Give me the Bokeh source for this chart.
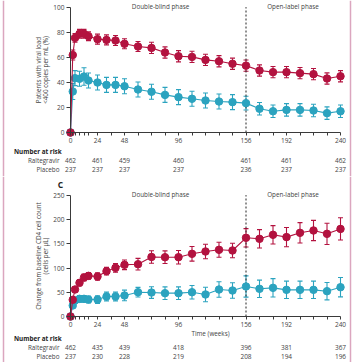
from bokeh.plotting import figure
from bokeh.models import (LinearAxis, FixedTicker, ColumnDataSource, Whisker, TeeHead,
                          Span, Range1d)
from bokeh.layouts import column
from bokeh.embed import file_html
from bokeh.resources import INLINE
from bokeh.core.properties import value
import math

# ---------------- data ----------------
weeks = [0, 2, 4, 8, 12, 16, 24, 32, 40, 48, 60, 72, 84, 96, 108, 120, 132, 144,
         156, 168, 180, 192, 204, 216, 228, 240]

vl_ral = [0, 62, 75.7, 79, 79, 77, 74.7, 74.1, 73.6, 71, 68.8, 67.7, 64, 61, 60.5, 58.1,
          57, 55, 53.5, 49.6, 48.3, 48.3, 47.5, 46.7, 43.2, 45]
vl_ral_err = [0, 4, 3.5, 3.5, 3.5, 3.5, 4, 4, 4, 4, 4, 4.5, 4.5, 4.5, 4.5, 4.5, 4.5, 4.5,
              4.5, 4.5, 4.5, 4.5, 4.5, 4.5, 4.5, 4.5]
vl_pla = [0, 32.8, 43.5, 43, 44.8, 41.6, 40, 38.1, 38.1, 37, 34.4, 32.6, 30.1, 28.3, 27,
          25.6, 24.8, 24.3, 23.5, 19, 17, 18.1, 18.1, 17.6, 15.5, 17]
vl_pla_err = [0, 6.4, 6, 6, 7, 6, 6, 6, 6, 6, 6, 6, 6, 6, 6, 6, 6, 6, 5.5, 5, 5, 5, 5, 5,
              5, 5]

cd4_ral = [0, 34.5, 55.8, 69.6, 80.6, 84, 82.6, 93.6, 100.6, 106.8, 108, 123, 122.5, 122.5,
           129.5, 134.3, 137.8, 136.4, 162.6, 160.5, 168.8, 164, 172.9, 177.7, 170.8, 181]
cd4_ral_err = [0, 5, 6, 6, 7, 7, 7.5, 8, 9, 10, 12, 13, 13, 14, 15, 15, 15.5, 15, 19, 19,
               19, 20, 21, 21, 22, 23]
cd4_pla = [0, 22.7, 33, 36.5, 36.5, 35, 35, 41.3, 41.3, 43.4, 50.2, 49.5, 48.2, 48.2, 50.2,
           45.5, 55.8, 53.7, 62, 57.2, 59.2, 55.1, 55.1, 55.1, 52.3, 60.5]
cd4_pla_err = [0, 5, 6, 7, 7, 7, 8, 9, 9, 11, 10, 12, 13, 13, 14, 15, 16, 16, 22, 18, 19,
               18, 18, 18, 18, 20]

risk_weeks = [0, 24, 48, 96, 156, 192, 240]
vl_risk_ral = ["462", "461", "459", "460", "461", "461", "462"]
vl_risk_pla = ["237", "237", "237", "237", "236", "237", "237"]
cd4_risk_ral = ["462", "435", "439", "418", "396", "381", "367"]
cd4_risk_pla = ["237", "230", "228", "219", "208", "194", "196"]

x_major = [0, 24, 48, 96, 156, 192, 240]
x_minor = [2, 4, 8, 12, 16, 36, 60, 72, 84, 108, 120, 132, 144, 168, 180, 204, 216, 228]
vl_ticks = [0, 20, 40, 60, 80, 100]
cd4_ticks = [0, 50, 100, 150, 200, 250]
phase_switch = 156

# ---------------- styles ----------------
RED = "#b3123f"
BLUE = "#2ba3bf"
AXIS = "#3a3a3a"
TXT = "#444444"
PINK = "#dba6bf"
FONT = "Open Sans"
FONT_V = value(FONT)
W = 356
PX_PER_WEEK = 1.125
X0_PX = 70


def wk(px):
    return (px - X0_PX) / PX_PER_WEEK


def make_panel(height, y_zero_px, px_per_unit, ymax, ticks, series, risk_ral, risk_pla,
               risk_y, phase_y, panel_letter=None, xlabel=None, ytitle=("", "")):
    def yv(px):
        return (y_zero_px - px) / px_per_unit

    p = figure(width=W, height=height, output_backend="svg", toolbar_location=None,
               x_axis_type=None, y_axis_type=None,
               x_range=Range1d(wk(0), wk(W)), y_range=Range1d(yv(height), yv(0)),
               min_border=0, min_border_left=0, min_border_right=0,
               min_border_top=0, min_border_bottom=0)
    p.outline_line_color = None
    p.xgrid.visible = False
    p.ygrid.visible = False
    p.background_fill_color = "white"
    p.border_fill_color = "white"

    # axes
    xa = LinearAxis(fixed_location=0, bounds=(0, 240),
                    ticker=FixedTicker(ticks=x_major, minor_ticks=x_minor))
    xa.axis_line_color = AXIS
    xa.axis_line_width = 1
    xa.major_tick_line_color = AXIS
    xa.minor_tick_line_color = AXIS
    xa.major_tick_in = 0
    xa.major_tick_out = 3
    xa.minor_tick_in = 0
    xa.minor_tick_out = 3
    xa.major_label_standoff = 2
    xa.major_label_text_font = FONT
    xa.major_label_text_font_size = "6.5px"
    xa.major_label_text_color = TXT
    p.add_layout(xa, "below")

    ya = LinearAxis(fixed_location=0, bounds=(0, ymax), ticker=FixedTicker(ticks=ticks))
    ya.axis_line_color = AXIS
    ya.major_tick_line_color = AXIS
    ya.major_tick_in = 0
    ya.major_tick_out = 4
    ya.minor_tick_line_color = None
    ya.major_label_standoff = 2
    ya.major_label_text_font = FONT
    ya.major_label_text_font_size = "6.5px"
    ya.major_label_text_color = TXT
    p.add_layout(ya, "left")

    # phase divider (dotted)
    p.segment(x0=[phase_switch], y0=[0], x1=[phase_switch], y1=[ymax * 1.003],
              line_color="#222222", line_width=1, line_dash="2 2")

    # series
    for vals, errs, col in series:
        src = ColumnDataSource(dict(x=weeks, y=vals,
                                    lo=[v - e for v, e in zip(vals, errs)],
                                    up=[v + e for v, e in zip(vals, errs)]))
        p.line("x", "y", source=src, line_color=col, line_width=1.1)
        wh = Whisker(source=src, base="x", lower="lo", upper="up", line_color=col,
                     line_width=1.1,
                     upper_head=TeeHead(size=5, line_color=col, line_width=1.1),
                     lower_head=TeeHead(size=5, line_color=col, line_width=1.1))
        p.add_layout(wh)
        p.scatter("x", "y", source=src, size=7.5, fill_color=col, line_color=col)

    # phase labels
    p.text(x=[wk(160), wk(292.5)], y=[phase_y, phase_y],
           text=["Double-blind phase", "Open-label phase"],
           text_font=FONT_V, text_font_size="6.3px", text_color=TXT,
           text_align="center", text_baseline="middle")

    # y-axis title (two lines)
    p.text(x=[wk(37.5), wk(44.5)], y=[ymax / 2, ymax / 2], text=list(ytitle),
           angle=math.pi / 2, text_font=FONT_V, text_font_size="6.3px", text_color=TXT,
           text_align="center", text_baseline="middle")

    if panel_letter:
        p.text(x=[wk(60)], y=[yv(8)], text=[panel_letter], text_font=FONT_V,
               text_font_size="8.5px", text_font_style="bold", text_color="#222222",
               text_align="center", text_baseline="middle")
    if xlabel:
        p.text(x=[wk(210)], y=[yv(xlabel)], text=["Time (weeks)"], text_font=FONT_V,
               text_font_size="6.3px", text_color=TXT, text_align="center",
               text_baseline="middle")

    # number at risk
    ny, ry, py = (yv(v) for v in risk_y)
    p.text(x=[wk(13.5)], y=[ny], text=["Number at risk"], text_font=FONT_V,
           text_font_size="6.3px", text_font_style="bold", text_color="#222222",
           text_align="left", text_baseline="middle")
    p.text(x=[wk(59), wk(59)], y=[ry, py], text=["Raltegravir", "Placebo"],
           text_font=FONT_V, text_font_size="6.3px", text_color=TXT,
           text_align="right", text_baseline="middle")
    p.text(x=risk_weeks, y=[ry] * len(risk_weeks), text=risk_ral, text_font=FONT_V,
           text_font_size="6.5px", text_color=TXT, text_align="center",
           text_baseline="middle")
    p.text(x=risk_weeks, y=[py] * len(risk_weeks), text=risk_pla, text_font=FONT_V,
           text_font_size="6.5px", text_color=TXT, text_align="center",
           text_baseline="middle")

    # page border lines
    for bx in (wk(3), wk(350)):
        p.add_layout(Span(location=bx, dimension="height", line_color=PINK,
                          line_width=1.5))
    return p


p1 = make_panel(176, 132, 1.25, 100, vl_ticks,
                [(vl_pla, vl_pla_err, BLUE), (vl_ral, vl_ral_err, RED)],
                vl_risk_ral, vl_risk_pla, (150.7, 160, 169.3), (132 - 6) / 1.25,
                ytitle=("Patients with viral load", "<400 copies per mL (%)"))

p2 = make_panel(186, 140, 0.484, 250, cd4_ticks,
                [(cd4_pla, cd4_pla_err, BLUE), (cd4_ral, cd4_ral_err, RED)],
                cd4_risk_ral, cd4_risk_pla, (162.3, 171.3, 180.3), (140 - 18) / 0.484,
                panel_letter="C", xlabel=157,
                ytitle=("Change from baseline CD4 cell count", "(cells per μL)"))

layout = column(p1, p2, spacing=0)
layout.styles = {"position": "absolute", "left": "0px", "top": "0px"}

open("out.html", "w").write(file_html(layout, INLINE))
